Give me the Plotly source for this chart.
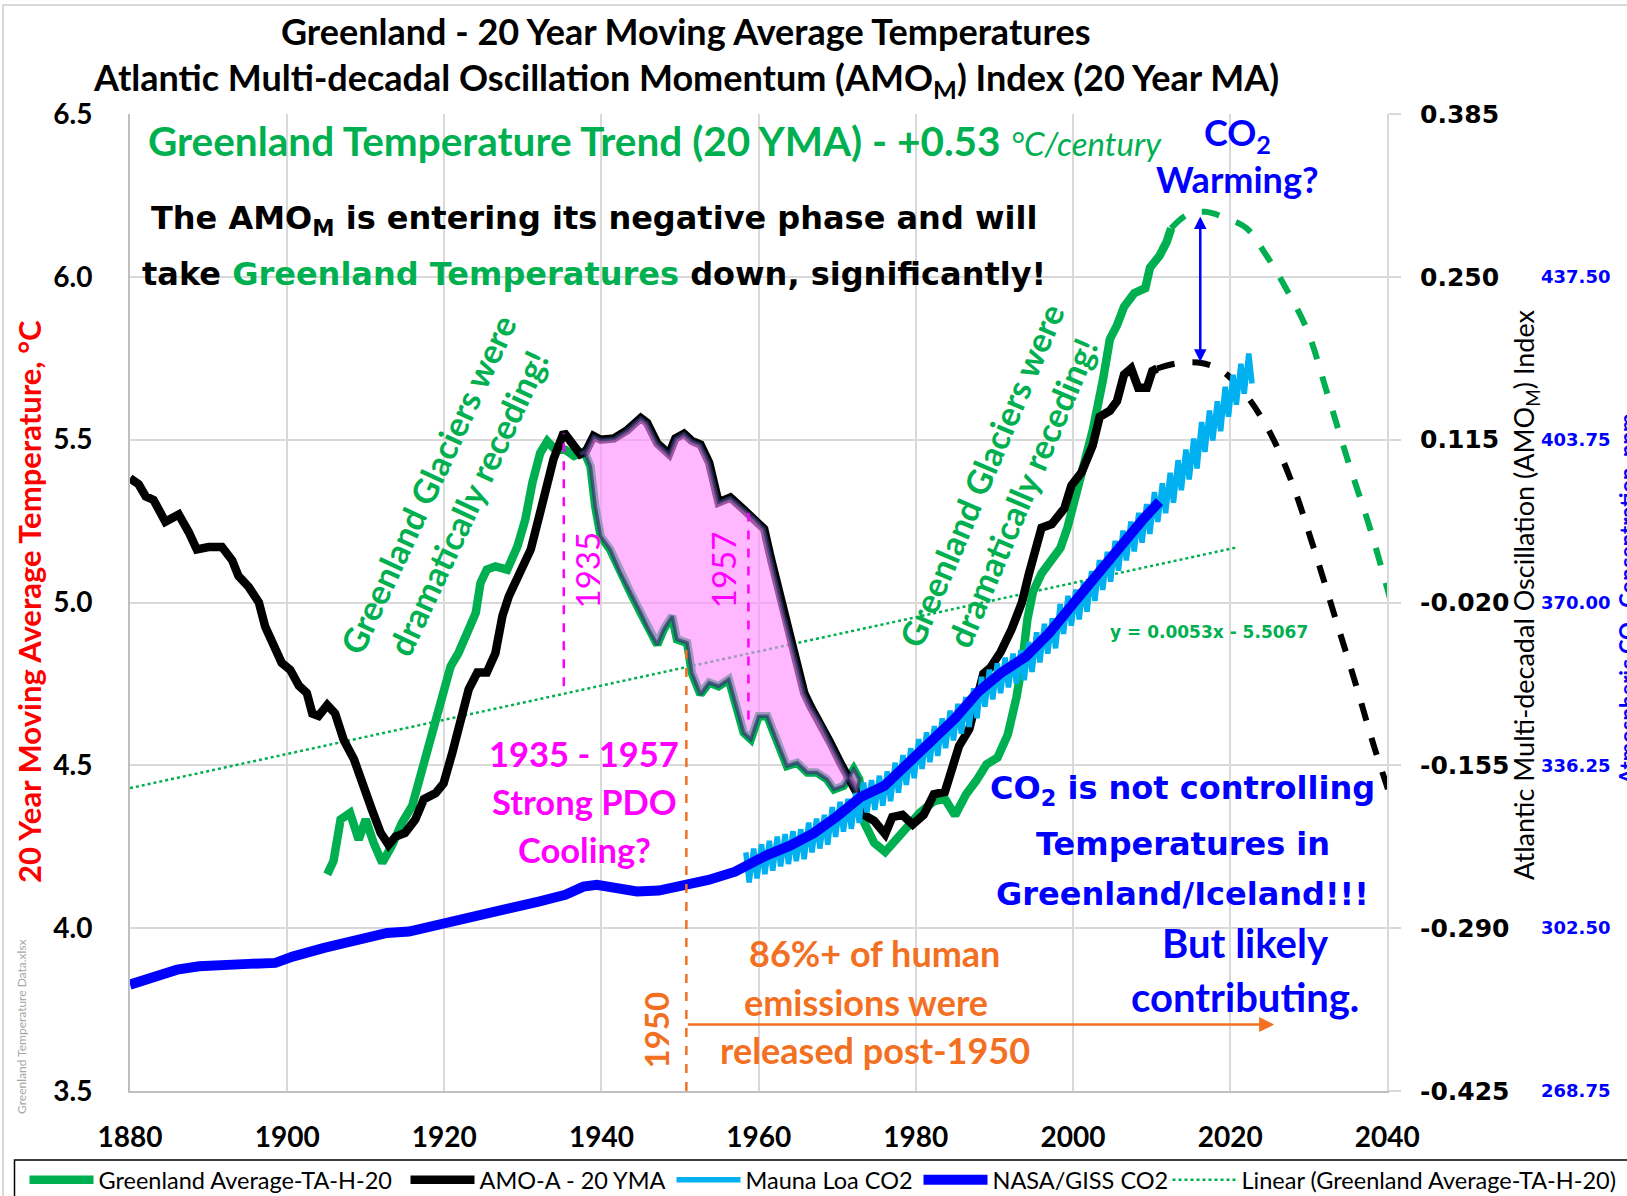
import plotly.graph_objects as go

# ---------------- data ----------------
greenland_years = [1905.1, 1905.9, 1906.8, 1908.0, 1909.1, 1910.0, 1911.0, 1912.1, 1913.3, 1914.6,
                   1915.9, 1917.0, 1918.4, 1919.7, 1920.8, 1921.8, 1923.1, 1924.0, 1924.6, 1925.4,
                   1926.5, 1928.0, 1929.3, 1930.3, 1931.2, 1932.2, 1933.1, 1934.1, 1935.4, 1936.5,
                   1937.8, 1938.6, 1939.2, 1939.9, 1941.1, 1942.4, 1943.7, 1945.0, 1946.0, 1947.1,
                   1947.9, 1949.0, 1949.6, 1950.9, 1951.5, 1952.6, 1953.7, 1954.9, 1956.2, 1956.8,
                   1958.1, 1959.0, 1960.0, 1961.1, 1962.4, 1963.6, 1964.9, 1966.2, 1967.4, 1968.7,
                   1969.6, 1970.8, 1972.1, 1972.8, 1973.4, 1974.7, 1976.1, 1977.4, 1978.7, 1980.5,
                   1982.3, 1983.7, 1985.0, 1986.4, 1987.7, 1989.0, 1990.4, 1991.7, 1992.8, 1993.5,
                   1994.2, 1994.9, 1996.0, 1997.3, 1998.4, 1999.3, 2000.2, 2001.1, 2002.5, 2003.8,
                   2004.7, 2005.6, 2006.5, 2007.8, 2009.2, 2009.8, 2011.0, 2011.9, 2012.5]
greenland_temp = [4.165, 4.206, 4.334, 4.354, 4.272, 4.334, 4.262, 4.201, 4.252, 4.323,
                  4.375, 4.477, 4.600, 4.702, 4.804, 4.845, 4.927, 4.968, 5.060, 5.101,
                  5.111, 5.101, 5.172, 5.254, 5.367, 5.459, 5.495, 5.469, 5.469, 5.450,
                  5.464, 5.418, 5.296, 5.203, 5.163, 5.091, 5.030, 4.968, 4.917, 4.871,
                  4.917, 4.958, 4.887, 4.876, 4.784, 4.718, 4.754, 4.743, 4.764, 4.713,
                  4.600, 4.580, 4.651, 4.651, 4.570, 4.498, 4.508, 4.478, 4.478, 4.457,
                  4.426, 4.437, 4.488, 4.457, 4.326, 4.262, 4.234, 4.270, 4.312, 4.354,
                  4.390, 4.397, 4.347, 4.411, 4.453, 4.503, 4.524, 4.594, 4.708, 4.806,
                  4.948, 5.032, 5.089, 5.131, 5.167, 5.230, 5.315, 5.400, 5.527, 5.682,
                  5.809, 5.851, 5.908, 5.950, 5.965, 6.028, 6.064, 6.106, 6.149]

greenland_proj_years = [2012.5, 2014.5, 2016.8, 2019.5, 2022.1, 2024.5, 2027.1, 2029.8, 2032.4,
                        2035.1, 2037.8, 2040.6]
greenland_proj_temp = [6.149, 6.190, 6.200, 6.180, 6.149, 6.070, 5.965, 5.837, 5.639,
                       5.427, 5.228, 4.990]

amo_years = [1880.0, 1881.1, 1882.0, 1883.0, 1884.5, 1886.2, 1887.5, 1888.5, 1890.0, 1891.7,
             1893.0, 1893.8, 1895.1, 1896.4, 1897.2, 1898.3, 1899.3, 1900.4, 1901.5, 1902.5,
             1903.2, 1904.0, 1905.1, 1906.1, 1907.2, 1908.5, 1909.5, 1910.8, 1911.9, 1912.9,
             1913.8, 1915.0, 1916.3, 1917.4, 1918.9, 1919.9, 1921.0, 1922.3, 1923.1, 1924.2,
             1925.4, 1926.5, 1927.4, 1928.2, 1929.5, 1931.0, 1932.4, 1933.9, 1935.2, 1936.5,
             1937.3, 1938.0, 1939.0, 1939.9, 1941.6, 1943.3, 1945.0, 1945.8, 1947.1, 1948.6,
             1949.4, 1950.5, 1951.5, 1952.6, 1953.7, 1954.9, 1956.4, 1958.1, 1959.6, 1960.7,
             1961.5, 1962.4, 1963.2, 1964.1, 1964.9, 1965.8, 1966.6, 1967.9, 1969.1, 1970.4,
             1971.7, 1972.5, 1973.4, 1974.7, 1976.1, 1977.0, 1978.3, 1979.6, 1981.0, 1982.3,
             1983.7, 1984.6, 1985.5, 1986.8, 1987.7, 1988.6, 1989.5, 1990.8, 1992.2, 1993.5,
             1994.4, 1995.3, 1996.0, 1997.3, 1998.9, 1999.8, 2001.1, 2002.5, 2003.4, 2004.7,
             2005.6, 2006.5, 2007.4, 2008.3, 2009.4, 2010.1, 2010.7]
amo_index = [0.083, 0.078, 0.068, 0.065, 0.047, 0.053, 0.038, 0.024, 0.026, 0.026,
             0.015, 0.002, -0.007, -0.020, -0.040, -0.056, -0.070, -0.076, -0.089, -0.095,
             -0.112, -0.114, -0.105, -0.112, -0.134, -0.150, -0.170, -0.192, -0.211, -0.221,
             -0.214, -0.211, -0.200, -0.183, -0.178, -0.170, -0.145, -0.114, -0.092, -0.078,
             -0.078, -0.062, -0.031, -0.015, 0.002, 0.024, 0.060, 0.099, 0.121, 0.108,
             0.103, 0.105, 0.118, 0.115, 0.116, 0.123, 0.133, 0.129, 0.112, 0.103,
             0.116, 0.120, 0.114, 0.111, 0.096, 0.063, 0.067, 0.057, 0.049, 0.041,
             0.018, -0.007, -0.029, -0.051, -0.073, -0.095, -0.106, -0.120, -0.136, -0.153,
             -0.169, -0.178, -0.196, -0.201, -0.212, -0.198, -0.196, -0.204, -0.196, -0.179,
             -0.177, -0.158, -0.139, -0.125, -0.104, -0.079, -0.074, -0.061, -0.042, -0.020,
             0.004, 0.026, 0.042, 0.045, 0.058, 0.077, 0.088, 0.110, 0.134, 0.139,
             0.147, 0.169, 0.174, 0.158, 0.158, 0.172, 0.174]

amo_proj_years = [2010.7, 2013.0, 2015.9, 2018.5, 2020.4, 2022.6, 2025.3, 2028.0, 2030.6,
                  2033.3, 2036.0, 2038.3, 2040.3]
amo_proj_index = [0.174, 0.178, 0.179, 0.174, 0.164, 0.147, 0.118, 0.077, 0.026,
                  -0.031, -0.088, -0.139, -0.179]

maunaloa_years = list(range(1958, 2023))
maunaloa_peak = [318.2, 319.0, 319.9, 320.6, 321.5, 322.0, 322.6, 323.0, 324.4, 325.2,
                 326.0, 327.6, 328.7, 329.3, 330.5, 332.7, 333.2, 334.1, 335.0, 336.8,
                 338.4, 339.8, 341.7, 343.1, 344.4, 346.0, 347.6, 349.0, 350.4, 352.2,
                 354.6, 356.1, 357.4, 358.6, 359.4, 360.1, 361.8, 363.8, 365.6, 366.7,
                 369.7, 371.4, 372.7, 374.3, 376.5, 378.8, 380.5, 382.8, 384.9, 386.8,
                 388.6, 390.4, 392.9, 394.7, 396.9, 399.5, 401.7, 404.0, 407.4, 409.8,
                 411.7, 414.7, 417.2, 419.5, 421.6]
maunaloa_trough = [312.0, 312.8, 313.7, 314.4, 315.3, 315.8, 316.4, 316.8, 318.2, 319.0,
                   319.8, 321.4, 322.5, 323.1, 324.3, 326.5, 327.0, 327.9, 328.8, 330.6,
                   332.2, 333.6, 335.5, 336.9, 338.2, 339.8, 341.4, 342.8, 344.2, 346.0,
                   348.4, 349.9, 351.2, 352.4, 353.2, 353.9, 355.6, 357.6, 359.4, 360.5,
                   363.5, 365.2, 366.5, 368.1, 370.3, 372.6, 374.3, 376.6, 378.7, 380.6,
                   382.4, 384.2, 386.7, 388.5, 390.7, 393.3, 395.5, 397.8, 401.2, 403.6,
                   405.5, 408.5, 411.0, 413.3, 415.4]

nasa_years = [1880, 1882.6, 1886, 1888.8, 1892.2, 1895.1, 1898.5, 1900.7, 1904.7, 1908.7,
              1912.7, 1915.5, 1918.4, 1922.9, 1927.4, 1932, 1935.4, 1937.7, 1939.4, 1941.6,
              1944.5, 1947.3, 1950.7, 1953.6, 1957, 1959, 1961, 1964, 1967, 1970,
              1973, 1976, 1979, 1982, 1985, 1988, 1991, 1994, 1997, 2000,
              2003, 2006, 2009, 2011]
nasa_ppm = [290.8, 292.2, 293.9, 294.6, 295.1, 295.1, 295.3, 296.6, 298.4, 300.1,
            301.5, 301.8, 302.8, 304.6, 306.3, 308.0, 309.4, 311.1, 311.5, 310.7,
            310.1, 310.3, 311.3, 312.5, 314.2, 316.0, 317.6, 319.6, 322.2, 325.7,
            329.7, 332.0, 336.8, 341.4, 346.0, 351.6, 355.6, 358.8, 363.7, 369.7,
            375.8, 381.9, 387.4, 390.9]

trend_years = [1880, 2021]
trend_temp = [4.43, 5.17]

x_ticks = [1880, 1900, 1920, 1940, 1960, 1980, 2000, 2020, 2040]
temp_ticks = [3.5, 4.0, 4.5, 5.0, 5.5, 6.0, 6.5]
amo_ticks = [-0.425, -0.290, -0.155, -0.020, 0.115, 0.250, 0.385]
co2_ticks = [268.75, 302.50, 336.25, 370.00, 403.75, 437.50]

TEMP_RANGE = [3.5, 6.5]
AMO_RANGE = [-0.425, 0.385]
CO2_RANGE = [268.75, 471.25]

# ---------------- styling ----------------
GREEN = "#00B050"
BLUE = "#0000FF"
LBLUE = "#00B0F0"
MAGENTA = "#FF00FF"
ORANGE = "#F36F21"
CAL = "Lato, 'Open Sans', sans-serif"
VER = "'DejaVu Sans', Verdana, sans-serif"

W, H = 1627, 1196
ML, MR, MT, MB = 130, 0, 114, 105
PW = W - ML - MR
PH = H - MT - MB
X_DOMAIN_END = (1387.3 - ML) / PW


def temp_to_amo(t):
    return AMO_RANGE[0] + (t - TEMP_RANGE[0]) * (AMO_RANGE[1] - AMO_RANGE[0]) / (TEMP_RANGE[1] - TEMP_RANGE[0])


def paper_x(px):
    return (px - ML) / PW


def paper_y(py):
    return (H - MB - py) / PH


fig = go.Figure()

fig.add_trace(go.Scatter(x=greenland_years, y=greenland_temp, mode="lines",
                         name="Greenland Average-TA-H-20", legend="legend",
                         line=dict(color=GREEN, width=8.5), yaxis="y"))
fig.add_trace(go.Scatter(x=greenland_proj_years, y=greenland_proj_temp, mode="lines",
                         showlegend=False, line=dict(color=GREEN, width=6, dash="dash", shape="spline"),
                         yaxis="y"))
fig.add_trace(go.Scatter(x=trend_years, y=trend_temp, mode="lines",
                         name="Linear (Greenland Average-TA-H-20)", legend="legend5",
                         line=dict(color=GREEN, width=2.5, dash="dot"), yaxis="y"))

fig.add_trace(go.Scatter(x=amo_years, y=amo_index, mode="lines", name="AMO-A - 20 YMA",
                         legend="legend2", line=dict(color="black", width=8.5), yaxis="y2"))
fig.add_trace(go.Scatter(x=amo_proj_years, y=amo_proj_index, mode="lines", showlegend=False,
                         line=dict(color="black", width=6, dash="dash", shape="spline"), yaxis="y2"))

top = [(yr, v) for yr, v in zip(amo_years, amo_index) if 1937.2 <= yr <= 1972.6]
bot = [(yr, temp_to_amo(v)) for yr, v in zip(greenland_years, greenland_temp) if 1937.7 <= yr <= 1972.9]
poly_x = [p[0] for p in top] + [p[0] for p in bot[::-1]]
poly_y = [p[1] for p in top] + [p[1] for p in bot[::-1]]
poly_x.append(poly_x[0])
poly_y.append(poly_y[0])
fig.add_trace(go.Scatter(x=poly_x, y=poly_y, mode="lines", fill="toself",
                         fillcolor="rgba(255,140,255,0.62)",
                         line=dict(color="rgba(45,55,110,0.7)", width=3.5),
                         showlegend=False, yaxis="y2", hoverinfo="skip"))

ml_x, ml_y = [], []
for yr, pk, tr in zip(maunaloa_years, maunaloa_peak, maunaloa_trough):
    ml_x += [yr + 0.37, yr + 0.79]
    ml_y += [pk, tr]
fig.add_trace(go.Scatter(x=ml_x, y=ml_y, mode="lines", name="Mauna Loa CO2", legend="legend3",
                         line=dict(color=LBLUE, width=5.5), yaxis="y3"))
fig.add_trace(go.Scatter(x=nasa_years, y=nasa_ppm, mode="lines", name="NASA/GISS CO2",
                         legend="legend4", line=dict(color=BLUE, width=10), yaxis="y3"))

grid = "#D9D9D9"


def legend_at(line_start_px):
    return dict(orientation="h", xref="container", yref="container",
                x=(line_start_px - 4.5) / W, y=1 - 1180 / H, xanchor="left", yanchor="middle",
                borderwidth=0, bgcolor="rgba(0,0,0,0)", itemwidth=64,
                font=dict(family=CAL, size=23.5, color="black"))


fig.update_layout(
    width=W, height=H,
    margin=dict(l=ML, r=MR, t=MT, b=MB, autoexpand=False),
    paper_bgcolor="white", plot_bgcolor="white",
    font=dict(family=CAL, color="black"),
    xaxis=dict(domain=[0, X_DOMAIN_END], range=[1880, 2040], tickvals=x_ticks,
               showgrid=True, gridcolor=grid, gridwidth=1.5, zeroline=False,
               showline=True, linecolor="#BFBFBF", linewidth=2, automargin=False,
               tickfont=dict(family=CAL, size=28, color="black", weight="bold"),
               ticks="", ticklabelstandoff=20),
    yaxis=dict(range=TEMP_RANGE, tickvals=temp_ticks, tickformat=".1f",
               showgrid=True, gridcolor=grid, gridwidth=1.5, zeroline=False,
               showline=True, linecolor="#BFBFBF", linewidth=2, automargin=False,
               tickfont=dict(family=CAL, size=28, color="black", weight="bold"),
               ticks="", ticklabelstandoff=30),
    yaxis2=dict(range=AMO_RANGE, tickvals=amo_ticks, ticktext=[f"{v:.3f}" for v in amo_ticks],
                overlaying="y", side="right", anchor="x", showgrid=False, zeroline=False,
                showline=True, linecolor=grid, linewidth=1.5, automargin=False,
                ticks="outside", ticklen=12, tickcolor=grid, tickwidth=1.5,
                tickfont=dict(family=VER, size=25, color="black", weight="bold"),
                ticklabelstandoff=14),
    yaxis3=dict(range=CO2_RANGE, tickvals=co2_ticks, tickformat=".2f", overlaying="y",
                side="right", anchor="free", position=paper_x(1540), showgrid=False,
                zeroline=False, showline=False, ticks="", automargin=False,
                tickfont=dict(family=VER, size=18, color=BLUE, weight="bold")),
    showlegend=True,
    legend=legend_at(29),
    legend2=legend_at(410),
    legend3=legend_at(676),
    legend4=legend_at(923),
    legend5=legend_at(1172),
)

ann = []


def txt(x, y, text, size, color="black", family=CAL, angle=0, xanchor="center",
        xref="x", yref="y"):
    ann.append(dict(x=x, y=y, xref=xref, yref=yref, text=text, showarrow=False,
                    font=dict(family=family, size=size, color=color), textangle=angle,
                    xanchor=xanchor, yanchor="middle"))


# titles
txt(paper_x(686), paper_y(31), "<b>Greenland - 20 Year Moving Average Temperatures</b>", 36,
    xref="paper", yref="paper")
txt(paper_x(686), paper_y(80),
    "<b>Atlantic Multi-decadal Oscillation Momentum (AMO<sub>M</sub>) Index (20 Year MA)</b>", 36,
    xref="paper", yref="paper")

# axis titles
txt(paper_x(29), paper_y(602), "<b>20 Year Moving Average Temperature, °C</b>", 31, color="red",
    angle=-90, xref="paper", yref="paper")
txt(paper_x(1525), paper_y(595), "Atlantic Multi-decadal Oscillation (AMO<sub>M</sub>) Index", 27,
    angle=-90, xref="paper", yref="paper")
txt(paper_x(1629), paper_y(600), "<b>Atmospheric CO<sub>2</sub> Concentration, ppm</b>", 22,
    color=BLUE, angle=-90, xref="paper", yref="paper")
txt(paper_x(21), paper_y(1027), "Greenland Temperature Data.xlsx", 12, color="#A6A6A6",
    angle=-90, xref="paper", yref="paper")

# in-plot texts
txt(1882.0, 6.42, "<b>Greenland Temperature Trend (20 YMA) - +0.53 </b>"
    "<i><span style='font-size:33px'>°C/century</span></i>", 40.5, color=GREEN, xanchor="left")
txt(2020.9, 6.436, "<b>CO<sub>2</sub></b>", 36, color=BLUE)
txt(2020.9, 6.30, "<b>Warming?</b>", 36, color=BLUE)
txt(1939.0, 6.175, "<b>The AMO<sub>M</sub> is entering its negative phase and will</b>", 32, family=VER)
txt(1939.0, 6.01, "<b>take <span style='color:#00B050'>Greenland Temperatures</span> down, significantly!</b>",
    32, family=VER)
txt(1920.4, 5.335, "<b>Greenland Glaciers were<br>dramatically receding!</b>", 34, color=GREEN, angle=-65)
txt(1990.9, 5.365, "<b>Greenland Glaciers were<br>dramatically receding!</b>", 34, color=GREEN, angle=-67)
txt(1938.1, 5.10, "1935", 33, color=MAGENTA, angle=-90)
txt(1955.5, 5.10, "1957", 33, color=MAGENTA, angle=-90)
txt(1937.8, 4.535, "<b>1935 - 1957</b>", 34.5, color=MAGENTA)
txt(1937.8, 4.389, "<b>Strong PDO</b>", 34.5, color=MAGENTA)
txt(1937.8, 4.242, "<b>Cooling?</b>", 34.5, color=MAGENTA)
txt(1946.9, 3.688, "<b>1950</b>", 33, color=ORANGE, angle=-90)
txt(1974.8, 3.924, "<b>86%+ of human</b>", 36, color=ORANGE)
txt(1973.6, 3.774, "<b>emissions were</b>", 36, color=ORANGE)
txt(1974.8, 3.627, "<b>released post-1950</b>", 36, color=ORANGE)
txt(2014.0, 4.424, "<b>CO<sub>2</sub> is not controlling</b>", 32, color=BLUE, family=VER)
txt(2014.0, 4.258, "<b>Temperatures in</b>", 32, color=BLUE, family=VER)
txt(2014.0, 4.105, "<b>Greenland/Iceland!!!</b>", 32, color=BLUE, family=VER)
txt(2021.9, 3.955, "<b>But likely</b>", 40, color=BLUE)
txt(2021.9, 3.790, "<b>contributing.</b>", 40, color=BLUE)
txt(2017.3, 4.908, "<b>y = 0.0053x - 5.5067</b>", 17, color=GREEN, family=VER)

# arrows
ann.append(dict(x=2025.6, y=3.704, ax=1950.8, ay=3.704, xref="x", yref="y", axref="x", ayref="y",
                showarrow=True, arrowhead=2, arrowsize=1.2, arrowwidth=2.5, arrowcolor=ORANGE, text=""))
ann.append(dict(x=2016.2, y=6.185, ax=2016.2, ay=5.735, xref="x", yref="y", axref="x", ayref="y",
                showarrow=True, arrowhead=2, arrowside="end+start", arrowsize=1, arrowwidth=2.5,
                arrowcolor=BLUE, text=""))
fig.update_layout(annotations=ann)

fig.add_shape(type="line", x0=1935.2, x1=1935.2, y0=4.743, y1=5.52, xref="x", yref="y",
              line=dict(color=MAGENTA, width=2.5, dash="dash"), layer="above")
fig.add_shape(type="line", x0=1958.7, x1=1958.7, y0=4.641, y1=5.275, xref="x", yref="y",
              line=dict(color=MAGENTA, width=2.5, dash="dash"), layer="above")
fig.add_shape(type="line", x0=1950.8, x1=1950.8, y0=3.5, y1=4.876, xref="x", yref="y",
              line=dict(color=ORANGE, width=2.5, dash="dash"), layer="above")
# outer chart border and legend box
fig.add_shape(type="rect", x0=paper_x(3), x1=paper_x(1700), y0=paper_y(1200), y1=paper_y(5),
              xref="paper", yref="paper", line=dict(color="#D9D9D9", width=2), layer="below")
fig.add_shape(type="rect", x0=paper_x(14.5), x1=paper_x(1700), y0=paper_y(1230), y1=paper_y(1160),
              xref="paper", yref="paper", line=dict(color="black", width=1.5), layer="below")

fig.write_html("out.html", config={"displayModeBar": False},
               post_script="document.body.style.margin='0';")
